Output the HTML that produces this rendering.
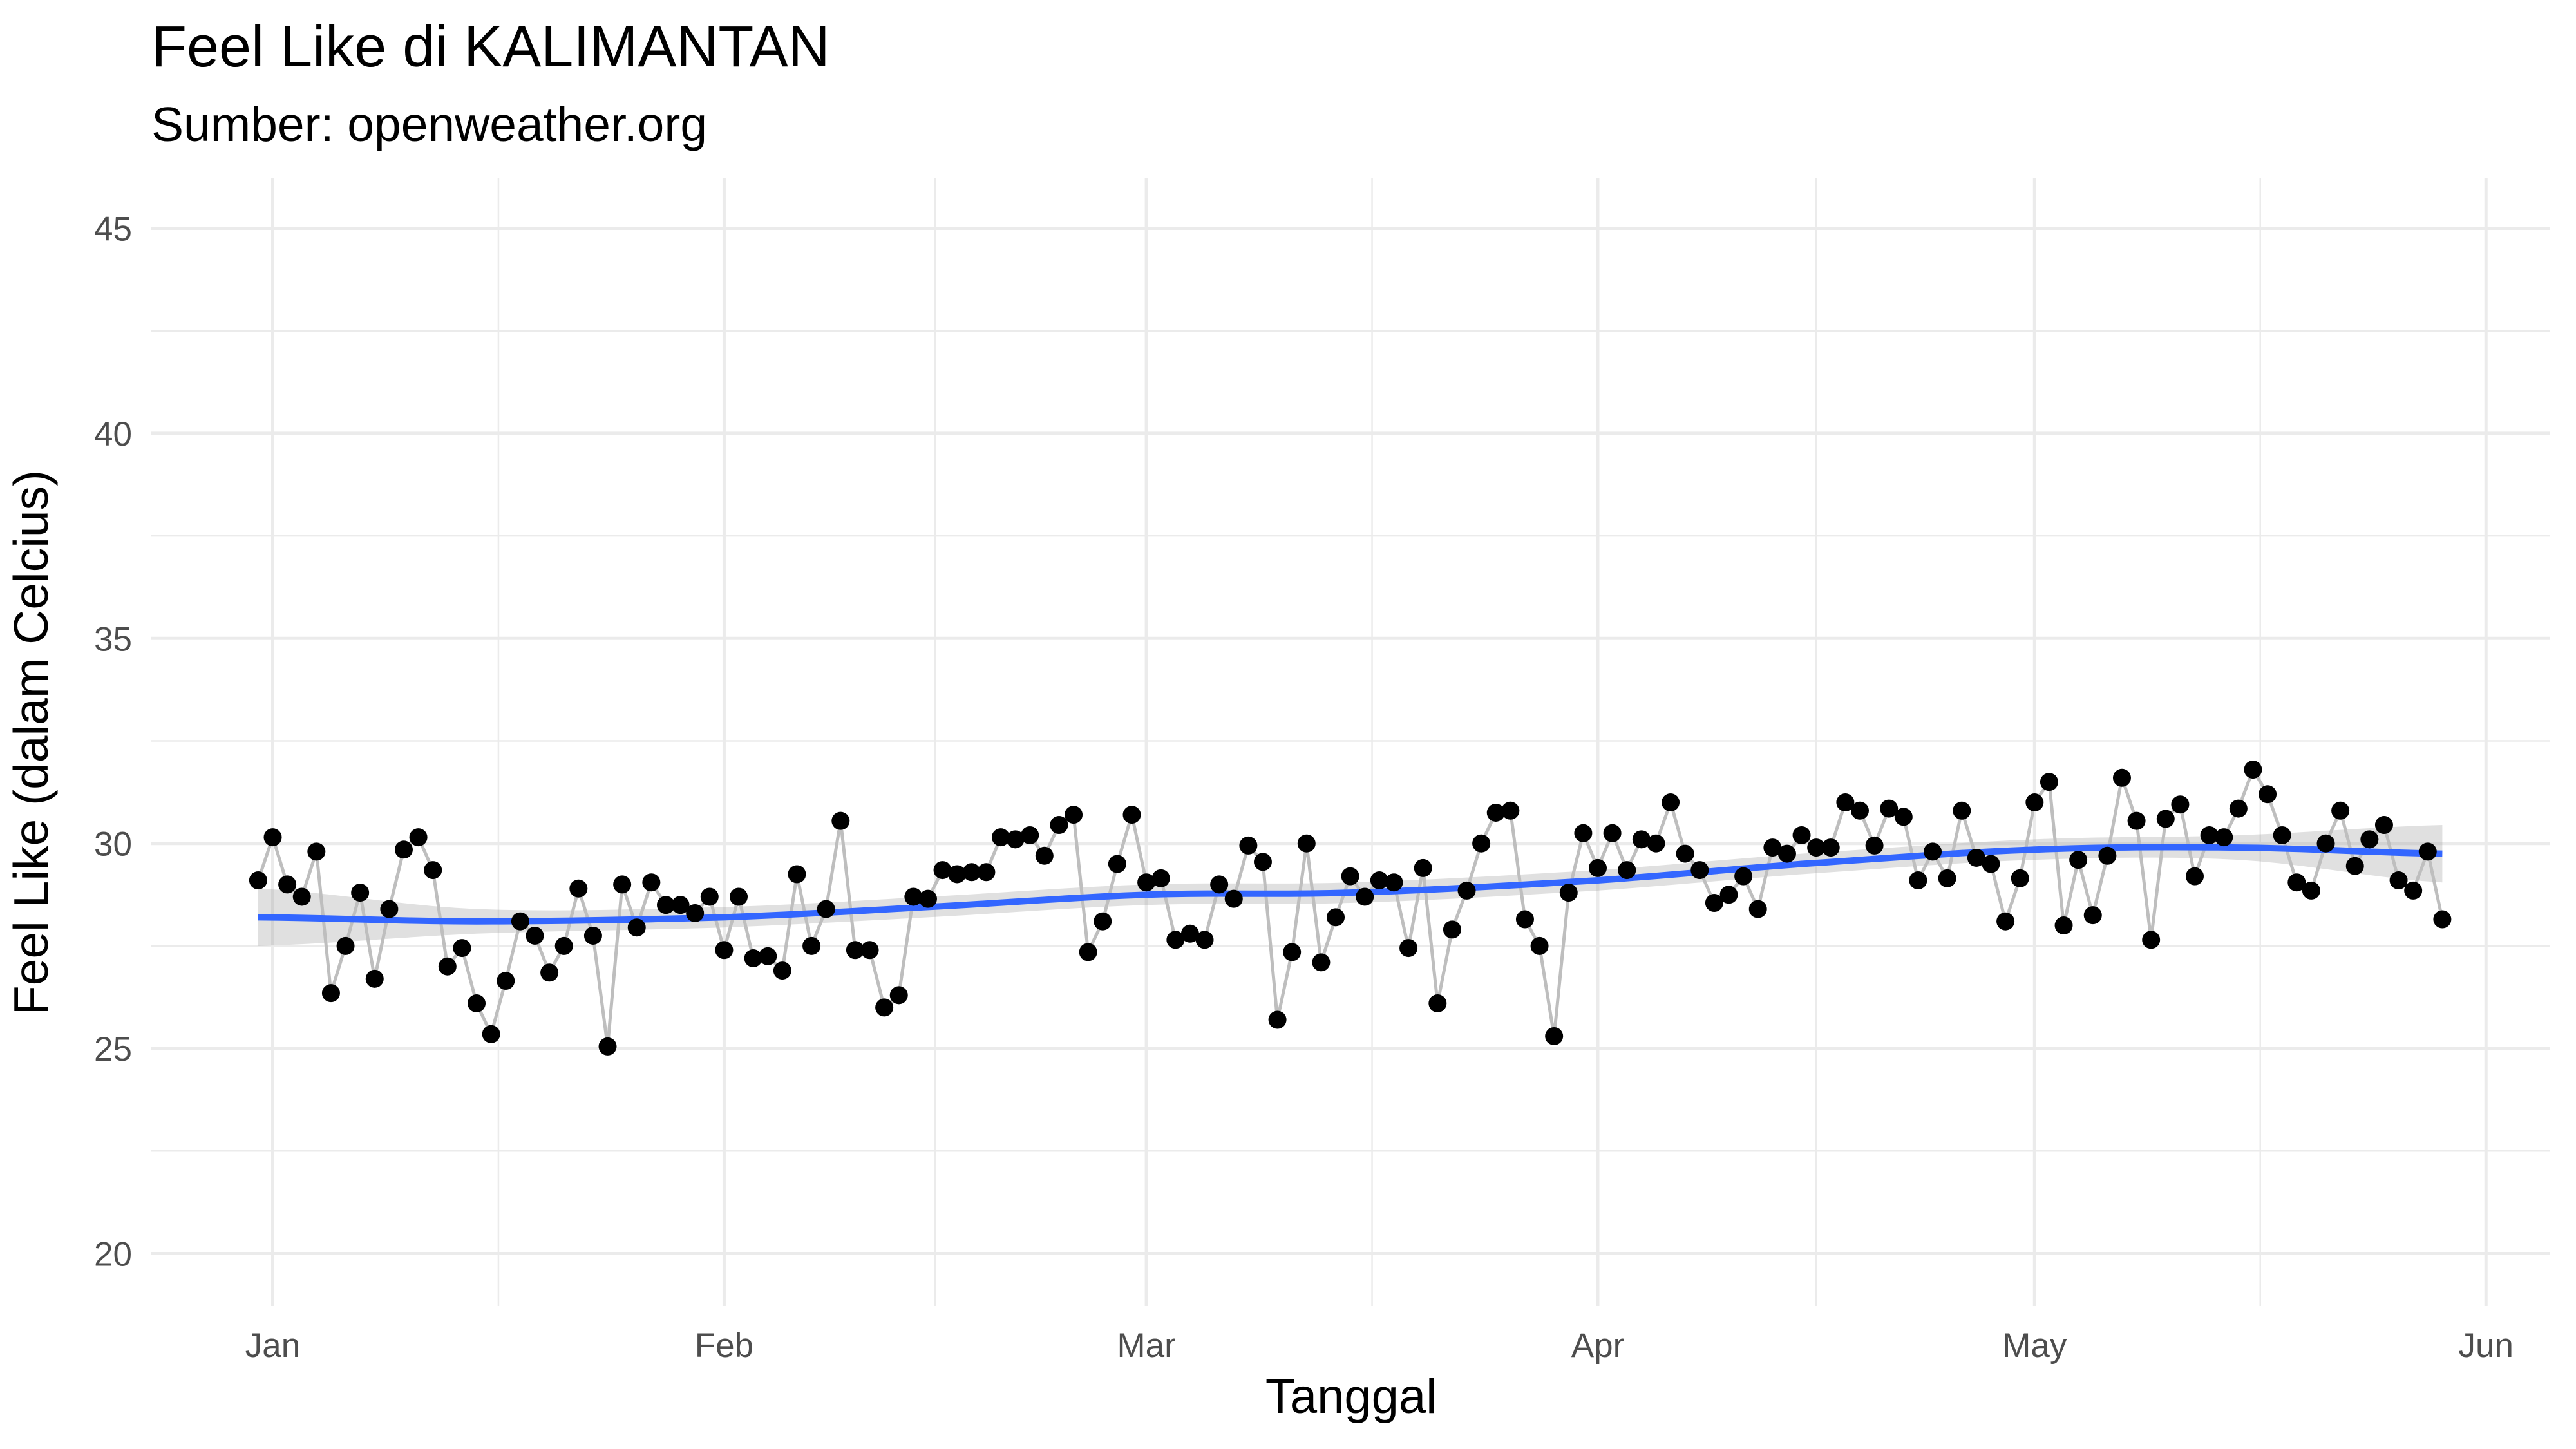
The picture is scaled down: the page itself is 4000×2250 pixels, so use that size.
<!DOCTYPE html>
<html><head><meta charset="utf-8">
<style>
html,body{margin:0;padding:0;background:#fff;}
svg{display:block;font-family:"Liberation Sans",Arial,sans-serif;}
</style></head>
<body>
<svg id="chart" width="4000" height="2250" viewBox="0 0 4000 2250" xmlns="http://www.w3.org/2000/svg">
<rect x="0" y="0" width="4000" height="2250" fill="#fff"/>
<text x="235" y="103" font-size="90" fill="#000">Feel Like di KALIMANTAN</text>
<text x="235" y="219" font-size="75" fill="#000">Sumber: openweather.org</text>
<g id="grid"></g>
<g id="band"></g>
<g id="series"></g>
<g id="axes"></g>
<text x="2098" y="2194" font-size="76" text-anchor="middle" fill="#000">Tanggal</text>
<text transform="translate(74,1153) rotate(-90)" font-size="75" text-anchor="middle" fill="#000">Feel Like (dalam Celcius)</text>
</svg>
<script>
const values = [29.1,30.15,29.0,28.7,29.8,26.35,27.5,28.8,26.7,28.4,29.85,30.15,29.35,27.0,27.45,26.1,25.35,26.65,28.1,27.75,26.85,27.5,28.9,27.75,25.05,29.0,27.95,29.05,28.5,28.5,28.3,28.7,
27.4,28.7,27.2,27.25,26.9,29.25,27.5,28.4,30.55,27.4,27.4,26.0,26.3,28.7,28.65,29.35,29.25,29.3,29.3,30.15,30.1,30.2,29.7,30.45,30.7,27.35,28.1,29.5,30.7,
29.05,29.15,27.65,27.8,27.65,29.0,28.65,29.95,29.55,25.7,27.35,30.0,27.1,28.2,29.2,28.7,29.1,29.05,27.45,29.4,26.1,27.9,28.85,30.0,30.75,30.8,28.15,27.5,25.3,28.8,30.25,
29.4,30.25,29.35,30.1,30.0,31.0,29.75,29.35,28.55,28.75,29.2,28.4,29.9,29.75,30.2,29.9,29.9,31.0,30.8,29.95,30.85,30.65,29.1,29.8,29.15,30.8,29.65,29.5,28.1,29.15,
31.0,31.5,28.0,29.6,28.25,29.7,31.6,30.55,27.65,30.6,30.95,29.2,30.2,30.15,30.85,31.8,31.2,30.2,29.05,28.85,30.0,30.8,29.45,30.1,30.45,29.1,28.85,29.8,28.15];
const startDay = -1;
const smoothDays = [-1,14,31,45,60,74,91,105,121,135,149];
const smoothVals = [28.2,28.1,28.2,28.45,28.75,28.8,29.1,29.5,29.85,29.9,29.75];
const smoothSE = [0.7,0.3,0.25,0.25,0.25,0.25,0.25,0.25,0.25,0.3,0.7];
const yTicks = [20,25,30,35,40,45];
const yMinor = [22.5,27.5,32.5,37.5,42.5];
const monthDays = [0,31,60,91,121,152];
const monthLabels = ["Jan","Feb","Mar","Apr","May","Jun"];
const minorDays = [15.5,45.5,75.5,106,136.5];

const NS="http://www.w3.org/2000/svg";
function X(d){return 423.5 + d*22.61;}
function Y(v){return 1946.5 - (v-20)*63.68;}
function mk(tag,attrs,parent){const e=document.createElementNS(NS,tag);for(const k in attrs)e.setAttribute(k,attrs[k]);parent.appendChild(e);return e;}
const grid=document.getElementById('grid'),axes=document.getElementById('axes'),series=document.getElementById('series'),band=document.getElementById('band');
const L=235,R=3959,T=276,B=2028;
yMinor.forEach(v=>{const l=mk('line',{x1:L,x2:R,y1:Y(v),y2:Y(v),stroke:'#ebebeb','stroke-width':2.5},grid);

});
minorDays.forEach(d=>{const l=mk('line',{x1:X(d),x2:X(d),y1:T,y2:B,stroke:'#ebebeb','stroke-width':2.5},grid);

});
yTicks.forEach(v=>{const l=mk('line',{x1:L,x2:R,y1:Y(v),y2:Y(v),stroke:'#ebebeb','stroke-width':5},grid);


const t=mk('text',{x:205,y:Y(v)+19,'font-size':53,'text-anchor':'end',fill:'#4d4d4d'},axes);t.textContent=v;

});
monthDays.forEach((d,i)=>{const l=mk('line',{x1:X(d),x2:X(d),y1:T,y2:B,stroke:'#ebebeb','stroke-width':5},grid);


const t=mk('text',{x:X(d),y:2107,'font-size':53,'text-anchor':'middle',fill:'#4d4d4d'},axes);t.textContent=monthLabels[i];

});
function sample(arr){const pts=[];for(let i=0;i<smoothDays.length-1;i++){const p0=arr[Math.max(i-1,0)],p1=arr[i],p2=arr[i+1],p3=arr[Math.min(i+2,arr.length-1)];
const d0=smoothDays[i],d1=smoothDays[i+1];for(let s=0;s<10;s++){const t=s/10;const v=0.5*((2*p1)+(-p0+p2)*t+(2*p0-5*p1+4*p2-p3)*t*t+(-p0+3*p1-3*p2+p3)*t*t*t);pts.push([d0+(d1-d0)*t,v]);}}
pts.push([smoothDays[smoothDays.length-1],arr[arr.length-1]]);return pts;}
const mid=sample(smoothVals),up=sample(smoothVals.map((v,i)=>v+smoothSE[i])),lo=sample(smoothVals.map((v,i)=>v-smoothSE[i]));
let bd='M'+up.map(p=>X(p[0])+','+Y(p[1])).join('L')+'L'+lo.reverse().map(p=>X(p[0])+','+Y(p[1])).join('L')+'Z';
const bp=mk('path',{d:bd,fill:'#999999','fill-opacity':0.3},band);


const ln=mk('polyline',{points:values.map((v,i)=>X(startDay+i)+','+Y(v)).join(' '),fill:'none',stroke:'#bebebe','stroke-width':5},series);


const sm=mk('polyline',{points:mid.map(p=>X(p[0])+','+Y(p[1])).join(' '),fill:'none',stroke:'#3366FF','stroke-width':10},series);


values.forEach((v,i)=>{const c=mk('circle',{cx:X(startDay+i),cy:Y(v),r:14,fill:'#000'},series);

});
</script>
</body></html>
